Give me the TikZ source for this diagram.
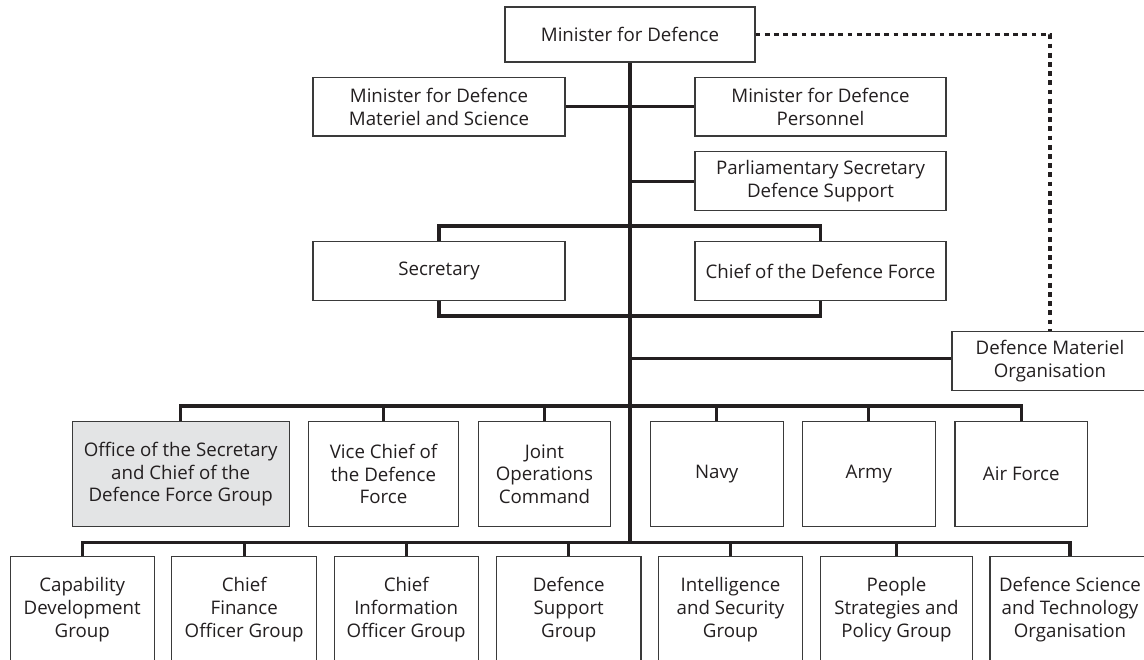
\documentclass[tikz,border=0pt]{standalone}
\usepackage{fontspec}
\setmainfont{Open Sans}
\definecolor{ink}{HTML}{231F20}
\definecolor{boxline}{HTML}{3A3A3A}
\definecolor{shade}{HTML}{E3E4E5}
\begin{document}
\begin{tikzpicture}[x=1pt,y=-1pt,
  box/.style={draw=boxline, line width=1.1pt, fill=white, inner sep=0pt, align=center,
    text=ink, font=\fontsize{18.7pt}{22.7pt}\selectfont},
  conn/.style={draw=ink, line width=3.3pt, line cap=butt},
  dotline/.style={draw=ink, line width=3.8pt, dash pattern=on 4.8pt off 4.4pt}]
\useasboundingbox (0,0) rectangle (1144,660);
\clip (0,0) rectangle (1144,660);
\fill[white] (0,0) rectangle (1144,660);

\coordinate (bt) at (0,226);
\coordinate (bb) at (0,316);
\coordinate (b2) at (0,406);
\coordinate (b3) at (0,542.3);

% nodes
\node[box, minimum width=250pt, minimum height=55pt] (min) at (630,34.5) {Minister for Defence};
\node[box, minimum width=252pt, minimum height=58.5pt] (mms) at (439,106.8) {Minister for Defence\\Materiel and Science};
\node[box, minimum width=251pt, minimum height=58.5pt] (mdp) at (820.5,106.8) {Minister for Defence\\Personnel};
\node[box, minimum width=251pt, minimum height=59pt] (psds) at (820.5,181.2) {Parliamentary Secretary\\Defence Support};
\node[box, minimum width=252pt, minimum height=59pt] (sec) at (439,271) {Secretary};
\node[box, minimum width=251pt, minimum height=59pt] (cdf) at (820.5,271) {Chief of the Defence Force};
\node[box, minimum width=196pt, minimum height=59pt] (dmo) at (1050,361.2) {Defence Materiel\\Organisation};

\node[box, fill=shade, minimum width=216.7pt, minimum height=105pt] (office) at (180.7,474.2) {Office of the Secretary\\and Chief of the\\Defence Force Group};
\node[box, minimum width=150.4pt, minimum height=105pt] (vice) at (383.5,474.2) {Vice Chief of\\the Defence\\Force};
\node[box, minimum width=132.3pt, minimum height=105pt] (joint) at (544.5,474.2) {Joint\\Operations\\Command};
\node[box, minimum width=133.3pt, minimum height=105pt] (navy) at (716.7,474.2) {Navy};
\node[box, minimum width=133pt, minimum height=105pt] (army) at (868.8,474.2) {Army};
\node[box, minimum width=132.7pt, minimum height=105pt] (air) at (1021.3,474.2) {Air Force};

\node[box, minimum width=144.3pt, minimum height=106pt] (cap) at (82.2,609.7) {Capability\\Development\\Group};
\node[box, minimum width=145pt, minimum height=106pt] (cfo) at (244.2,609.7) {Chief\\Finance\\Officer Group};
\node[box, minimum width=144.3pt, minimum height=106pt] (cio) at (406.2,609.7) {Chief\\Information\\Officer Group};
\node[box, minimum width=144.6pt, minimum height=106pt] (dsg) at (568.7,609.7) {Defence\\Support\\Group};
\node[box, minimum width=144.4pt, minimum height=106pt] (isg) at (730.5,609.7) {Intelligence\\and Security\\Group};
\node[box, minimum width=152.7pt, minimum height=106pt] (psp) at (896.4,609.7) {People\\Strategies and\\Policy Group};
\node[box, minimum width=160pt, minimum height=106pt] (dsto) at (1070,609.7) {Defence Science\\and Technology\\Organisation};

% trunk and branches
\draw[conn] (min.south) -- (min.south |- b3);
\draw[conn] (mms.east) -- (mdp.west);
\draw[conn] (psds.west) -- (psds.west -| min.south);
\draw[conn] ([yshift=3pt]dmo.west) -- ([yshift=3pt]dmo.west -| min.south);

% secretary / CDF bracket
\draw[conn] (sec.north) -- (sec.north |- bt) -- (cdf.north |- bt) -- (cdf.north);
\draw[conn] (sec.south) -- (sec.south |- bb) -- (cdf.south |- bb) -- (cdf.south);

% row 2 bus
\draw[conn] (office.north) -- (office.north |- b2) -- (air.north |- b2) -- (air.north);
\foreach \n in {vice,joint,navy,army}
  \draw[conn] (\n.north) -- (\n.north |- b2);

% row 3 bus
\draw[conn] (cap.north) -- (cap.north |- b3) -- (dsto.north |- b3) -- (dsto.north);
\foreach \n in {cfo,cio,dsg,isg,psp}
  \draw[conn] (\n.north) -- (\n.north |- b3);

% dotted link
\draw[dotline] (min.east) -| (dmo.north);
\end{tikzpicture}
\end{document}
